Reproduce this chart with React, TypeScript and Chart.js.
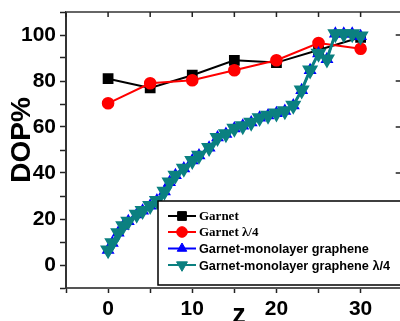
import React, { useEffect, useRef } from "react";
import { Chart, registerables } from "chart.js";
Chart.register(...registerables);

const seriesLabels = [
  "Garnet",
  "Garnet \u03bb/4",
  "Garnet-monolayer graphene",
  "Garnet-monolayer graphene \u03bb/4",
];
const garnetX = [0, 5, 10, 15, 20, 25, 30];
const garnetY = [81, 77, 82.5, 89, 88, 93.5, 99];
const garnetQwY = [70.3, 79, 80.3, 84.7, 89, 96.5, 94];
const grapheneX = [0, 0.5, 1.2, 1.8, 2.4, 3.4, 4.1, 5, 5.8, 6.7, 7.3, 8, 9, 10, 10.8, 12, 13, 14, 15, 16, 17, 18, 19, 20, 21, 22, 23, 24, 25, 26, 27, 28, 29, 30];
const grapheneY = [6.5, 9.6, 14, 17, 19, 22, 23.6, 25.8, 28, 32, 36, 39, 42, 45.4, 47.6, 51, 55.4, 57, 59.4, 60.5, 62, 64, 65, 66, 67, 69.4, 76, 84.7, 92, 89.5, 100.5, 100.5, 100.5, 99.5];
const grapheneQwY = [6.5, 9.6, 14, 17, 19, 22, 23.6, 25.8, 28, 32, 36, 39, 42, 45.4, 47.6, 51, 55.4, 57, 59.4, 60.5, 62, 64, 65, 66, 67, 69.4, 76, 84.7, 92, 89.5, 100.5, 100.5, 100.5, 99.5];
const xTickLabels = [0, 10, 20, 30];
const yTickLabels = [0, 20, 40, 60, 80, 100];
const xTitle = "z";
const yTitle = "DOP%";

const SANS = "'Liberation Sans', Arial, sans-serif";
const SERIF = "'Liberation Serif', 'Times New Roman', serif";

function drawMarker(ctx: CanvasRenderingContext2D, style: string, x: number, y: number, r: number, rot: number) {
  ctx.beginPath();
  if (style === "rect") {
    const s = r / Math.SQRT2;
    ctx.rect(x - s, y - s, 2 * s, 2 * s);
  } else if (style === "circle") {
    ctx.arc(x, y, r, 0, Math.PI * 2);
  } else {
    let a = (rot * Math.PI) / 180;
    ctx.moveTo(x + Math.sin(a) * r, y - Math.cos(a) * r);
    a += (2 * Math.PI) / 3;
    ctx.lineTo(x + Math.sin(a) * r, y - Math.cos(a) * r);
    a += (2 * Math.PI) / 3;
    ctx.lineTo(x + Math.sin(a) * r, y - Math.cos(a) * r);
    ctx.closePath();
  }
  ctx.fill();
  ctx.stroke();
}

const framePlugin = {
  id: "frame",
  afterDatasetsDraw(chart: any) {
    const { ctx, chartArea: a, scales } = chart;
    const xs = scales.x;
    const ys = scales.y;
    ctx.save();
    ctx.strokeStyle = "#666";
    ctx.lineWidth = 2;
    ctx.beginPath();
    ctx.moveTo(a.left, a.top);
    ctx.lineTo(a.right, a.top);
    ctx.lineTo(a.right, a.bottom);
    ctx.stroke();
    ctx.strokeStyle = "#222";
    ctx.lineWidth = 1.5;
    ctx.beginPath();
    for (const t of xs.ticks) {
      const px = xs.getPixelForValue(t.value);
      ctx.moveTo(px, a.top);
      ctx.lineTo(px, a.top + 5);
    }
    for (const v of yTickLabels) {
      const py = ys.getPixelForValue(v);
      ctx.moveTo(a.right, py);
      ctx.lineTo(a.right - 7, py);
    }
    ctx.stroke();

    // axis titles
    ctx.fillStyle = "#000";
    ctx.font = `bold 28px ${SANS}`;
    ctx.textAlign = "center";
    ctx.textBaseline = "middle";
    ctx.save();
    ctx.translate(22, 140);
    ctx.rotate(-Math.PI / 2);
    ctx.fillText(yTitle, 0, 0);
    ctx.restore();
    ctx.font = `bold 27px ${SANS}`;
    ctx.textBaseline = "alphabetic";
    ctx.fillText(xTitle, 239, 323);

    // legend
    const lx = 158, ly = 201, lb = 285;
    ctx.fillStyle = "#fff";
    ctx.fillRect(lx, ly, chart.width - lx + 5, lb - ly);
    ctx.strokeStyle = "#000";
    ctx.lineWidth = 1.5;
    ctx.strokeRect(lx, ly, chart.width - lx + 5, lb - ly);
    const rows = [216, 232, 248.5, 265];
    chart.data.datasets.forEach((ds: any, i: number) => {
      const y = rows[i];
      ctx.strokeStyle = ds.borderColor;
      ctx.lineWidth = 2;
      ctx.beginPath();
      ctx.moveTo(168, y);
      ctx.lineTo(196, y);
      ctx.stroke();
      ctx.fillStyle = ds.pointBackgroundColor;
      ctx.strokeStyle = ds.pointBorderColor;
      ctx.lineWidth = 1;
      drawMarker(ctx, ds.pointStyle, 182, y, ds.pointRadius, ds.pointRotation || 0);
      ctx.fillStyle = "#000";
      ctx.textAlign = "left";
      ctx.textBaseline = "middle";
      ctx.font = i < 2 ? `bold 13px ${SERIF}` : `bold 12.7px ${SANS}`;
      ctx.fillText(ds.label, 199, y + 1);
    });
    ctx.restore();
  },
};

export default function App() {
  const ref = useRef<HTMLCanvasElement | null>(null);
  useEffect(() => {
    const canvas = ref.current!;
    const pts = (xs: number[], ys: number[]) => xs.map((x, i) => ({ x, y: ys[i] }));
    const chart = new Chart(canvas, {
      type: "line",
      data: {
        datasets: [
          {
            label: seriesLabels[0],
            data: pts(garnetX, garnetY),
            borderColor: "#000",
            backgroundColor: "#000",
            pointBackgroundColor: "#000",
            pointBorderColor: "#000",
            pointStyle: "rect",
            pointRadius: 6.2,
            borderWidth: 2,
            order: 4,
          },
          {
            label: seriesLabels[1],
            data: pts(garnetX, garnetQwY),
            borderColor: "#ff0000",
            backgroundColor: "#ff0000",
            pointBackgroundColor: "#ff0000",
            pointBorderColor: "#ff0000",
            pointStyle: "circle",
            pointRadius: 5.3,
            borderWidth: 2,
            order: 3,
          },
          {
            label: seriesLabels[2],
            data: pts(grapheneX, grapheneY),
            borderColor: "#0000ff",
            backgroundColor: "#0000ff",
            pointBackgroundColor: "#0000ff",
            pointBorderColor: "#0000ff",
            pointStyle: "triangle",
            pointRadius: 5.5,
            borderWidth: 2,
            order: 2,
          },
          {
            label: seriesLabels[3],
            data: pts(grapheneX, grapheneQwY),
            borderColor: "#0b8080",
            backgroundColor: "#0b8080",
            pointBackgroundColor: "#0b8080",
            pointBorderColor: "#0b8080",
            pointStyle: "triangle",
            pointRotation: 180,
            pointRadius: 6.3,
            borderWidth: 3,
            order: 1,
          },
        ],
      },
      options: {
        animation: false,
        responsive: false,
        devicePixelRatio: 1,
        layout: { padding: { left: 0, top: 12, right: 6, bottom: 0 } },
        plugins: { legend: { display: false }, tooltip: { enabled: false } },
        scales: {
          x: {
            type: "linear",
            min: -5,
            max: 35,
            afterFit: (s: any) => { s.height = 48; s.paddingLeft = 0; s.paddingRight = 0; s.paddingTop = 0; s.paddingBottom = 0; },
            border: { display: true, color: "#555", width: 2 },
            grid: { drawOnChartArea: false, drawTicks: true, tickLength: 5, tickColor: "#222", tickWidth: 1.5 },
            ticks: {
              stepSize: 5,
              autoSkip: false,
              maxRotation: 0,
              padding: 4,
              color: "#000",
              font: { family: SANS, weight: "bold", size: 21 },
              callback: (v: any) => (xTickLabels.includes(v) ? String(v) : ""),
            },
          },
          y: {
            type: "linear",
            min: -10,
            max: 110,
            afterFit: (s: any) => { s.width = 66; s.paddingLeft = 0; s.paddingRight = 0; s.paddingTop = 0; s.paddingBottom = 0; },
            border: { display: true, color: "#333", width: 2 },
            grid: { drawOnChartArea: false, drawTicks: true, tickLength: 6, tickColor: "#222", tickWidth: 1.5 },
            ticks: {
              stepSize: 10,
              autoSkip: false,
              padding: 4,
              color: "#000",
              font: { family: SANS, weight: "bold", size: 21 },
              callback: (v: any) => (yTickLabels.includes(v) ? String(v) : ""),
            },
          },
        },
      },
      plugins: [framePlugin],
    } as any);
    return () => chart.destroy();
  }, []);
  return (
    <div style={{ position: "fixed", left: 0, top: 0, width: 400, height: 321, overflow: "hidden", background: "#fff" }}>
      <canvas ref={ref} width={412} height={336} style={{ display: "block", width: 412, height: 336 }} />
    </div>
  );
}
